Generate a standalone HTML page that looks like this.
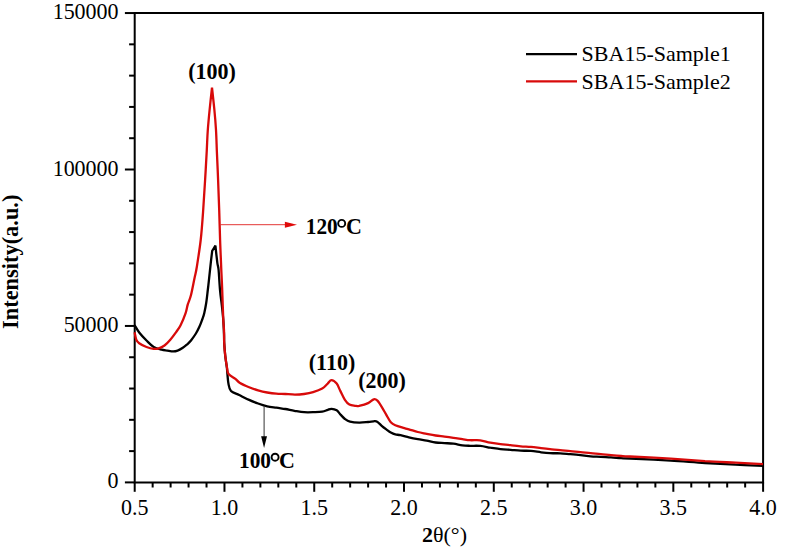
<!DOCTYPE html>
<html><head><meta charset="utf-8"><style>
html,body{margin:0;padding:0;background:#fff;width:787px;height:552px;overflow:hidden}
svg{display:block}
.t{font-family:"Liberation Serif",serif;font-size:22px;fill:#000}
.b{font-family:"Liberation Serif",serif;font-size:22px;font-weight:bold;fill:#000}
.b2{font-family:"Liberation Serif",serif;font-size:22px;font-weight:bold;fill:#000}
</style></head><body>
<svg width="787" height="552" viewBox="0 0 787 552">
<path d="M134.7,13.05 H763.1 V482.4 H134.7 Z" fill="none" stroke="#000" stroke-width="2"/>
<line x1="124.89999999999999" y1="482.40" x2="134.7" y2="482.40" stroke="#000" stroke-width="2"/>
<line x1="129.1" y1="451.11" x2="134.7" y2="451.11" stroke="#000" stroke-width="2"/>
<line x1="129.1" y1="419.82" x2="134.7" y2="419.82" stroke="#000" stroke-width="2"/>
<line x1="129.1" y1="388.53" x2="134.7" y2="388.53" stroke="#000" stroke-width="2"/>
<line x1="129.1" y1="357.24" x2="134.7" y2="357.24" stroke="#000" stroke-width="2"/>
<line x1="124.89999999999999" y1="325.95" x2="134.7" y2="325.95" stroke="#000" stroke-width="2"/>
<line x1="129.1" y1="294.66" x2="134.7" y2="294.66" stroke="#000" stroke-width="2"/>
<line x1="129.1" y1="263.37" x2="134.7" y2="263.37" stroke="#000" stroke-width="2"/>
<line x1="129.1" y1="232.08" x2="134.7" y2="232.08" stroke="#000" stroke-width="2"/>
<line x1="129.1" y1="200.79" x2="134.7" y2="200.79" stroke="#000" stroke-width="2"/>
<line x1="124.89999999999999" y1="169.50" x2="134.7" y2="169.50" stroke="#000" stroke-width="2"/>
<line x1="129.1" y1="138.21" x2="134.7" y2="138.21" stroke="#000" stroke-width="2"/>
<line x1="129.1" y1="106.92" x2="134.7" y2="106.92" stroke="#000" stroke-width="2"/>
<line x1="129.1" y1="75.63" x2="134.7" y2="75.63" stroke="#000" stroke-width="2"/>
<line x1="129.1" y1="44.34" x2="134.7" y2="44.34" stroke="#000" stroke-width="2"/>
<line x1="124.89999999999999" y1="13.05" x2="134.7" y2="13.05" stroke="#000" stroke-width="2"/>
<line x1="134.70" y1="482.4" x2="134.70" y2="491.79999999999995" stroke="#000" stroke-width="2"/>
<line x1="152.65" y1="482.4" x2="152.65" y2="487.5" stroke="#000" stroke-width="2"/>
<line x1="170.61" y1="482.4" x2="170.61" y2="487.5" stroke="#000" stroke-width="2"/>
<line x1="188.56" y1="482.4" x2="188.56" y2="487.5" stroke="#000" stroke-width="2"/>
<line x1="206.52" y1="482.4" x2="206.52" y2="487.5" stroke="#000" stroke-width="2"/>
<line x1="224.47" y1="482.4" x2="224.47" y2="491.79999999999995" stroke="#000" stroke-width="2"/>
<line x1="242.43" y1="482.4" x2="242.43" y2="487.5" stroke="#000" stroke-width="2"/>
<line x1="260.38" y1="482.4" x2="260.38" y2="487.5" stroke="#000" stroke-width="2"/>
<line x1="278.33" y1="482.4" x2="278.33" y2="487.5" stroke="#000" stroke-width="2"/>
<line x1="296.29" y1="482.4" x2="296.29" y2="487.5" stroke="#000" stroke-width="2"/>
<line x1="314.24" y1="482.4" x2="314.24" y2="491.79999999999995" stroke="#000" stroke-width="2"/>
<line x1="332.20" y1="482.4" x2="332.20" y2="487.5" stroke="#000" stroke-width="2"/>
<line x1="350.15" y1="482.4" x2="350.15" y2="487.5" stroke="#000" stroke-width="2"/>
<line x1="368.11" y1="482.4" x2="368.11" y2="487.5" stroke="#000" stroke-width="2"/>
<line x1="386.06" y1="482.4" x2="386.06" y2="487.5" stroke="#000" stroke-width="2"/>
<line x1="404.01" y1="482.4" x2="404.01" y2="491.79999999999995" stroke="#000" stroke-width="2"/>
<line x1="421.97" y1="482.4" x2="421.97" y2="487.5" stroke="#000" stroke-width="2"/>
<line x1="439.92" y1="482.4" x2="439.92" y2="487.5" stroke="#000" stroke-width="2"/>
<line x1="457.88" y1="482.4" x2="457.88" y2="487.5" stroke="#000" stroke-width="2"/>
<line x1="475.83" y1="482.4" x2="475.83" y2="487.5" stroke="#000" stroke-width="2"/>
<line x1="493.79" y1="482.4" x2="493.79" y2="491.79999999999995" stroke="#000" stroke-width="2"/>
<line x1="511.74" y1="482.4" x2="511.74" y2="487.5" stroke="#000" stroke-width="2"/>
<line x1="529.69" y1="482.4" x2="529.69" y2="487.5" stroke="#000" stroke-width="2"/>
<line x1="547.65" y1="482.4" x2="547.65" y2="487.5" stroke="#000" stroke-width="2"/>
<line x1="565.60" y1="482.4" x2="565.60" y2="487.5" stroke="#000" stroke-width="2"/>
<line x1="583.56" y1="482.4" x2="583.56" y2="491.79999999999995" stroke="#000" stroke-width="2"/>
<line x1="601.51" y1="482.4" x2="601.51" y2="487.5" stroke="#000" stroke-width="2"/>
<line x1="619.47" y1="482.4" x2="619.47" y2="487.5" stroke="#000" stroke-width="2"/>
<line x1="637.42" y1="482.4" x2="637.42" y2="487.5" stroke="#000" stroke-width="2"/>
<line x1="655.37" y1="482.4" x2="655.37" y2="487.5" stroke="#000" stroke-width="2"/>
<line x1="673.33" y1="482.4" x2="673.33" y2="491.79999999999995" stroke="#000" stroke-width="2"/>
<line x1="691.28" y1="482.4" x2="691.28" y2="487.5" stroke="#000" stroke-width="2"/>
<line x1="709.24" y1="482.4" x2="709.24" y2="487.5" stroke="#000" stroke-width="2"/>
<line x1="727.19" y1="482.4" x2="727.19" y2="487.5" stroke="#000" stroke-width="2"/>
<line x1="745.15" y1="482.4" x2="745.15" y2="487.5" stroke="#000" stroke-width="2"/>
<line x1="763.10" y1="482.4" x2="763.10" y2="491.79999999999995" stroke="#000" stroke-width="2"/>
<g transform="matrix(1,0,0,1.06,0,-29.310)"><text x="118.6" y="488.5" text-anchor="end" class="t">0</text></g>
<g transform="matrix(1,0,0,1.06,0,-19.923)"><text x="118.6" y="332.1" text-anchor="end" class="t">50000</text></g>
<g transform="matrix(1,0,0,1.06,0,-10.536)"><text x="118.6" y="175.6" text-anchor="end" class="t">100000</text></g>
<g transform="matrix(1,0,0,1.06,0,-1.149)"><text x="118.6" y="19.1" text-anchor="end" class="t">150000</text></g>
<g transform="matrix(1,0,0,1.06,0,-30.900)"><text x="134.7" y="515" text-anchor="middle" class="t">0.5</text></g>
<g transform="matrix(1,0,0,1.06,0,-30.900)"><text x="224.5" y="515" text-anchor="middle" class="t">1.0</text></g>
<g transform="matrix(1,0,0,1.06,0,-30.900)"><text x="314.2" y="515" text-anchor="middle" class="t">1.5</text></g>
<g transform="matrix(1,0,0,1.06,0,-30.900)"><text x="404.0" y="515" text-anchor="middle" class="t">2.0</text></g>
<g transform="matrix(1,0,0,1.06,0,-30.900)"><text x="493.8" y="515" text-anchor="middle" class="t">2.5</text></g>
<g transform="matrix(1,0,0,1.06,0,-30.900)"><text x="583.6" y="515" text-anchor="middle" class="t">3.0</text></g>
<g transform="matrix(1,0,0,1.06,0,-30.900)"><text x="673.3" y="515" text-anchor="middle" class="t">3.5</text></g>
<g transform="matrix(1,0,0,1.06,0,-30.900)"><text x="763.1" y="515" text-anchor="middle" class="t">4.0</text></g>
<path d="M134.6,325.2 C135.4,326.4 137.2,329.9 139.2,332.5 C141.2,335.1 144.1,338.1 146.5,340.5 C148.9,342.9 151.2,345.5 153.7,347.0 C156.2,348.5 159.3,349.1 161.6,349.7 C163.9,350.3 165.5,350.3 167.4,350.6 C169.3,350.9 171.5,351.4 173.2,351.4 C174.9,351.4 176.0,351.2 177.6,350.6 C179.2,350.0 181.2,348.9 182.8,347.8 C184.4,346.8 185.8,345.5 187.2,344.3 C188.6,343.1 189.6,342.3 191.0,340.5 C192.4,338.7 194.5,335.8 195.9,333.5 C197.3,331.2 198.4,328.9 199.5,326.5 C200.6,324.1 201.6,321.2 202.4,319.0 C203.2,316.8 203.7,315.7 204.3,313.0 C204.9,310.3 205.6,306.8 206.2,303.0 C206.8,299.2 207.3,294.2 207.8,290.0 C208.3,285.8 208.7,282.3 209.2,277.7 C209.7,273.1 210.3,267.1 210.8,262.6 C211.3,258.1 212.0,252.8 212.2,250.8 C212.7,250.0 214.9,246.5 215.4,245.7 C215.7,248.5 216.8,258.6 217.3,262.6 C217.8,266.7 218.2,265.4 218.6,270.0 C219.0,274.6 219.5,284.2 220.0,290.0 C220.5,295.8 221.2,300.0 221.8,305.0 C222.4,310.0 222.9,315.2 223.3,320.0 C223.7,324.8 223.8,330.2 224.0,334.0 C224.2,337.8 224.0,339.1 224.2,342.7 C224.4,346.3 224.8,351.2 225.2,355.4 C225.6,359.6 226.4,363.4 226.9,368.0 C227.4,372.6 227.7,379.5 228.4,383.3 C229.1,387.1 229.2,389.1 231.0,391.0 C232.8,392.9 236.2,393.5 239.2,395.0 C242.2,396.5 245.9,398.5 249.1,399.9 C252.2,401.3 255.1,402.4 258.1,403.5 C261.1,404.6 264.2,405.6 267.2,406.3 C270.2,407.0 273.3,407.2 276.3,407.6 C279.3,408.1 282.3,408.5 285.3,409.0 C288.3,409.5 291.3,410.3 294.4,410.8 C297.5,411.3 301.0,412.0 304.1,412.2 C307.2,412.4 310.1,412.3 313.1,412.2 C316.1,412.1 319.8,412.1 322.2,411.7 C324.6,411.3 326.1,410.4 327.7,409.9 C329.2,409.4 330.0,408.7 331.5,408.8 C333.0,408.9 335.2,409.4 336.7,410.3 C338.2,411.2 338.9,412.9 340.3,414.4 C341.7,415.8 343.3,417.8 344.9,419.0 C346.5,420.2 347.6,421.1 350.0,421.7 C352.4,422.3 356.1,422.6 359.1,422.6 C362.1,422.7 365.7,422.2 368.1,422.0 C370.5,421.8 372.1,421.4 373.6,421.3 C375.1,421.2 375.9,420.9 377.2,421.7 C378.5,422.4 380.2,424.5 381.7,425.8 C383.2,427.1 384.8,428.3 386.3,429.4 C387.8,430.5 389.3,431.8 390.8,432.6 C392.3,433.4 393.7,434.0 395.3,434.4 C396.9,434.8 398.2,434.7 400.5,435.2 C402.8,435.7 406.0,436.6 408.9,437.3 C411.8,438.0 414.8,438.6 417.8,439.1 C420.8,439.7 423.7,440.0 426.7,440.6 C429.7,441.2 432.6,442.1 435.6,442.5 C438.6,442.9 441.5,442.9 444.5,443.1 C447.5,443.3 450.4,443.3 453.4,443.7 C456.4,444.1 459.5,444.9 462.3,445.3 C465.1,445.7 467.0,445.7 470.0,445.8 C473.0,445.9 476.8,445.6 480.2,445.9 C483.6,446.2 486.9,447.1 490.3,447.7 C493.7,448.2 497.1,448.8 500.5,449.2 C503.9,449.6 507.3,449.6 510.7,449.8 C514.1,450.1 517.4,450.5 520.8,450.7 C524.2,450.9 527.6,450.6 531.0,450.9 C534.4,451.2 537.9,451.9 541.1,452.3 C544.3,452.7 546.8,453.0 550.0,453.2 C553.2,453.4 556.8,453.1 560.2,453.3 C563.6,453.5 566.9,453.9 570.3,454.2 C573.7,454.5 577.1,454.8 580.5,455.2 C583.9,455.6 587.3,456.0 590.7,456.3 C594.1,456.6 597.4,456.6 600.8,456.8 C604.2,457.0 607.6,457.1 611.0,457.3 C614.4,457.5 617.9,458.0 621.1,458.2 C624.3,458.4 621.7,458.1 630.0,458.5 C638.3,458.9 658.2,459.9 670.7,460.7 C683.2,461.4 694.2,462.4 705.0,463.0 C715.8,463.6 725.8,464.1 735.5,464.6 C745.2,465.1 758.4,465.7 763.0,465.9" fill="none" stroke="#000" stroke-width="2.3" stroke-linejoin="bevel"/>
<path d="M134.6,332.3 C134.9,333.5 135.5,337.9 136.3,339.7 C137.1,341.5 137.5,342.0 139.2,343.2 C140.9,344.4 144.1,346.1 146.5,347.0 C148.9,347.9 151.7,348.6 153.7,348.8 C155.7,349.0 156.9,348.9 158.7,348.3 C160.5,347.8 162.6,346.9 164.5,345.5 C166.4,344.1 168.4,341.9 170.3,339.7 C172.2,337.5 174.4,334.5 176.1,332.1 C177.8,329.7 179.0,328.4 180.6,325.2 C182.2,322.0 184.4,316.6 185.6,313.1 C186.8,309.6 186.9,307.4 187.8,304.4 C188.7,301.4 189.9,299.4 191.0,295.0 C192.1,290.6 193.6,282.4 194.6,277.7 C195.6,273.0 195.8,273.3 196.8,267.0 C197.8,260.7 199.6,249.5 200.7,240.0 C201.8,230.5 202.5,220.0 203.2,210.0 C203.9,200.0 204.5,190.0 205.1,180.0 C205.7,170.0 206.4,158.3 206.8,150.0 C207.2,141.7 207.3,136.8 207.8,130.0 C208.3,123.2 209.0,116.1 209.7,109.0 C210.4,101.9 211.6,91.2 212.0,87.6 C212.4,91.2 213.6,101.9 214.3,109.0 C215.0,116.1 215.6,123.2 216.0,130.0 C216.4,136.8 216.5,141.7 216.8,150.0 C217.2,158.3 217.7,170.0 218.1,180.0 C218.5,190.0 218.9,200.0 219.2,210.0 C219.5,220.0 219.8,230.0 220.1,240.0 C220.4,250.0 221.0,261.7 221.3,270.0 C221.7,278.3 221.9,281.7 222.2,290.0 C222.5,298.3 223.0,313.3 223.3,320.0 C223.6,326.7 223.8,326.2 224.0,330.0 C224.2,333.8 224.0,338.5 224.2,342.7 C224.4,346.9 224.7,351.2 225.2,355.4 C225.7,359.6 226.5,365.0 227.1,368.1 C227.7,371.2 227.2,372.2 228.6,374.0 C230.0,375.8 233.5,377.4 235.4,378.9 C237.3,380.4 237.7,381.6 240.0,383.0 C242.3,384.4 246.1,386.0 249.1,387.2 C252.1,388.4 255.1,389.5 258.1,390.4 C261.1,391.3 264.2,392.0 267.2,392.5 C270.2,393.0 273.3,393.4 276.3,393.6 C279.3,393.9 282.2,393.8 285.3,394.0 C288.4,394.2 291.9,394.6 295.0,394.6 C298.1,394.6 301.1,394.4 304.1,394.0 C307.1,393.6 310.1,393.1 313.1,392.2 C316.1,391.3 319.8,390.0 322.2,388.6 C324.6,387.2 326.1,385.0 327.7,383.6 C329.2,382.2 330.0,380.2 331.5,380.2 C333.0,380.2 335.2,381.8 336.7,383.6 C338.2,385.4 338.9,388.2 340.3,390.9 C341.7,393.6 343.4,397.6 344.9,399.9 C346.4,402.2 347.7,403.6 349.4,404.6 C351.1,405.6 353.4,405.6 355.0,405.8 C356.6,406.0 356.9,406.3 359.1,405.9 C361.3,405.4 365.7,404.2 368.1,403.1 C370.6,402.0 372.2,399.7 373.8,399.3 C375.4,398.9 376.1,399.4 377.4,400.6 C378.7,401.9 380.2,404.4 381.7,406.8 C383.2,409.2 384.8,412.3 386.3,414.9 C387.8,417.5 389.3,420.5 390.8,422.2 C392.3,423.9 393.0,424.3 395.3,425.3 C397.6,426.3 402.1,427.4 404.4,428.1 C406.7,428.8 406.7,428.7 408.9,429.3 C411.1,429.9 414.8,431.2 417.8,432.0 C420.8,432.8 423.7,433.2 426.7,433.8 C429.7,434.4 432.6,435.0 435.6,435.5 C438.6,436.0 441.5,436.2 444.5,436.6 C447.5,437.0 450.4,437.4 453.4,437.8 C456.4,438.2 459.5,438.7 462.3,439.1 C465.1,439.5 467.0,440.0 470.0,440.2 C473.0,440.4 476.8,439.9 480.2,440.3 C483.6,440.7 486.9,442.0 490.3,442.6 C493.7,443.2 497.1,443.7 500.5,444.1 C503.9,444.5 507.3,444.8 510.7,445.2 C514.1,445.6 517.4,446.0 520.8,446.3 C524.2,446.6 527.6,446.6 531.0,446.9 C534.4,447.2 537.9,447.8 541.1,448.2 C544.3,448.6 546.8,448.9 550.0,449.2 C553.2,449.5 556.8,449.9 560.2,450.2 C563.6,450.5 566.9,450.9 570.3,451.2 C573.7,451.5 577.1,451.9 580.5,452.2 C583.9,452.5 587.3,452.9 590.7,453.2 C594.1,453.5 597.4,453.9 600.8,454.2 C604.2,454.5 607.6,454.9 611.0,455.2 C614.4,455.5 617.9,455.8 621.1,456.0 C624.3,456.2 621.7,456.1 630.0,456.5 C638.3,456.9 658.2,457.9 670.7,458.7 C683.2,459.5 694.2,460.4 705.0,461.1 C715.8,461.8 725.8,462.2 735.5,462.7 C745.2,463.2 758.4,463.9 763.0,464.2" fill="none" stroke="#d80a0a" stroke-width="2.3" stroke-linejoin="bevel"/>
<line x1="526" y1="54.2" x2="577" y2="54.2" stroke="#000" stroke-width="2.3"/>
<line x1="526" y1="81.4" x2="577" y2="81.4" stroke="#d80a0a" stroke-width="2.3"/>
<text x="581.6" y="61.3" class="t">SBA15-Sample1</text>
<text x="581.6" y="88.6" class="t">SBA15-Sample2</text>
<g transform="matrix(1,0,0,1.06,0,-4.740)"><text x="212" y="79" text-anchor="middle" class="b">(100)</text></g>
<g transform="matrix(1,0,0,1.06,0,-22.200)"><text x="332" y="370" text-anchor="middle" class="b">(110)</text></g>
<g transform="matrix(1,0,0,1.06,0,-23.280)"><text x="382" y="388" text-anchor="middle" class="b">(200)</text></g>
<line x1="220.5" y1="224.7" x2="286" y2="224.7" stroke="#e0201f" stroke-width="0.9"/>
<path d="M284.9,221.7 L297,224.7 L284.9,227.7 Z" fill="#e00a0a"/>
<g transform="matrix(1,0,0,1.06,0,-14.040)"><text x="305.8" y="234" class="b" textLength="32" lengthAdjust="spacingAndGlyphs">120</text></g>
<circle cx="341.7" cy="223.4" r="3.5" fill="none" stroke="#000" stroke-width="1.9"/>
<g transform="matrix(1,0,0,1.06,0,-14.040)"><text x="362" y="234" text-anchor="end" class="b">C</text></g>
<line x1="264.1" y1="406" x2="264.1" y2="437" stroke="#333" stroke-width="1"/>
<path d="M261.1,436.2 L264.1,448 L267,436.2 Z" fill="#000"/>
<g transform="matrix(1,0,0,1.06,0,-28.068)"><text x="239" y="467.8" class="b" textLength="32" lengthAdjust="spacingAndGlyphs">100</text></g>
<circle cx="275.1" cy="457.2" r="3.5" fill="none" stroke="#000" stroke-width="1.9"/>
<g transform="matrix(1,0,0,1.06,0,-28.068)"><text x="294.8" y="467.8" text-anchor="end" class="b">C</text></g>
<text transform="translate(17.5,261.8) rotate(-90)" text-anchor="middle" class="b" style="font-size:22.4px">Intensity(a.u.)</text>
<text x="422" y="542" class="b2">2<tspan font-weight="normal">θ(°)</tspan></text>
</svg>
</body></html>
